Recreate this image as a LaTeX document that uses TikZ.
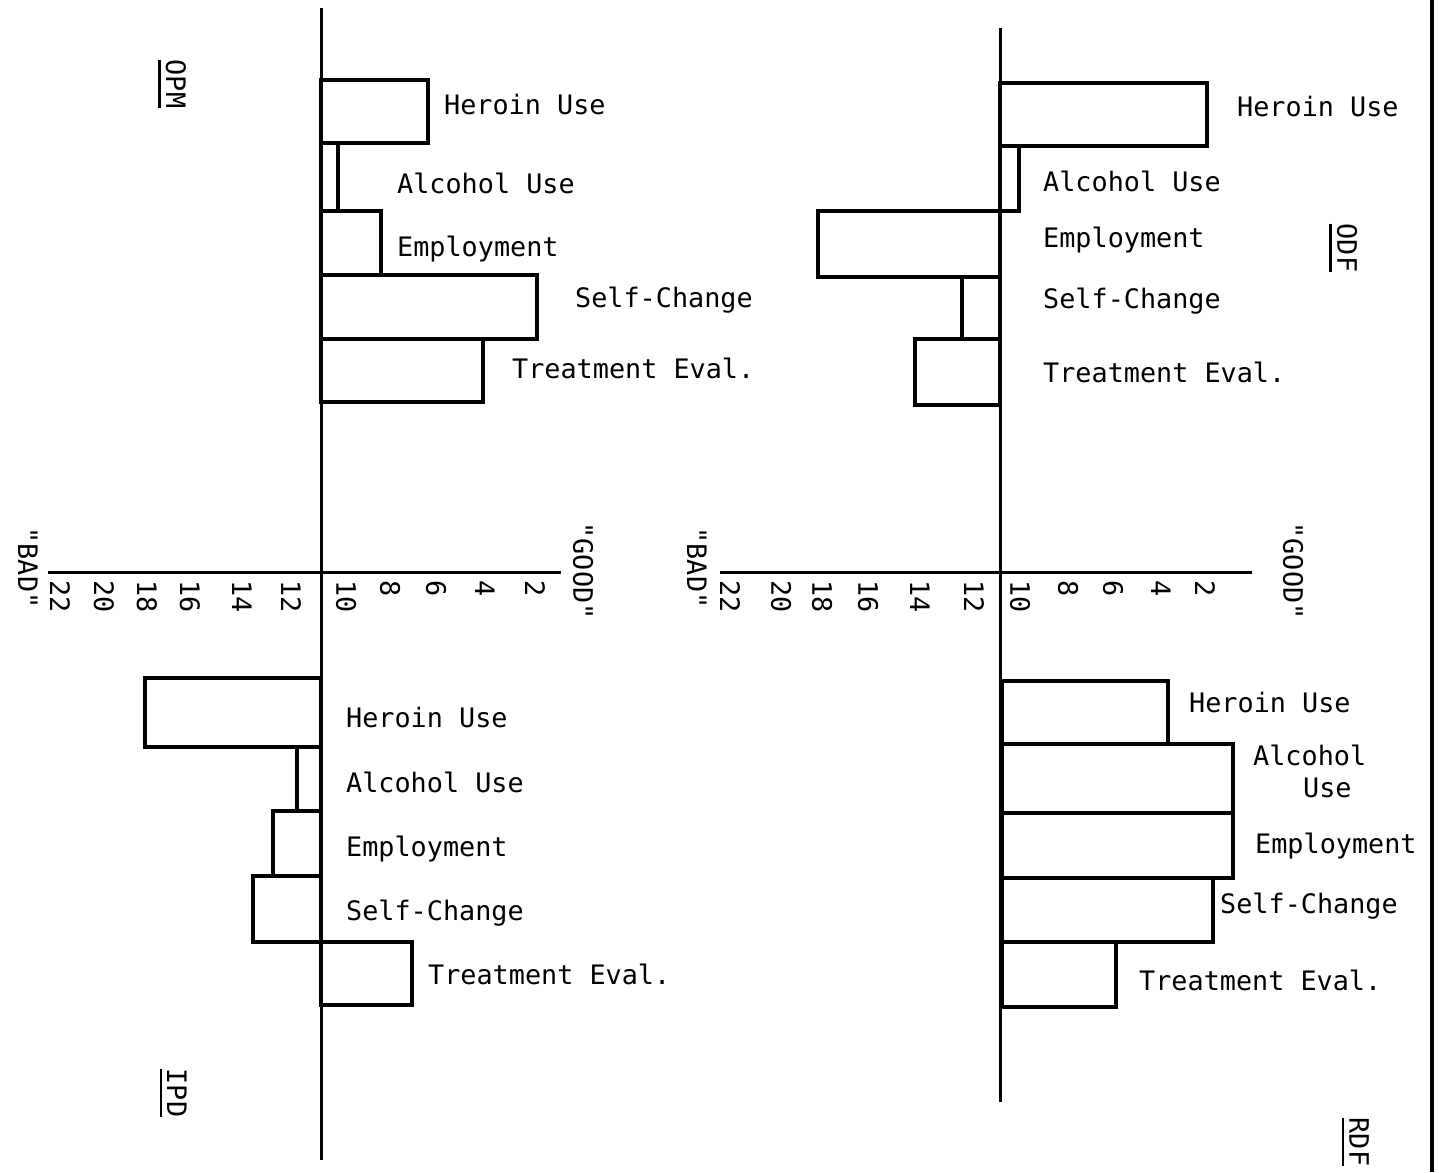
\documentclass[tikz,border=0pt]{standalone}
\usepackage{fontspec}
\newfontfamily\typew{DejaVu Sans Mono}
\newcommand{\lblf}{\typew\fontsize{26.8}{30}\selectfont}
\begin{document}
\begin{tikzpicture}[x=1pt,y=-1pt,
  bar/.style={draw, line width=3.4pt},
  axisline/.style={line width=3pt},
  lbl/.style={anchor=base west, yshift=-10pt, inner sep=0pt, font=\lblf},
  ticklbl/.style={rotate=-90, anchor=west, inner sep=0pt, font=\lblf},
  endlbl/.style={rotate=-90, anchor=center, inner sep=0pt, font=\lblf},
  panel/.style={rotate=-90, anchor=center, inner sep=0pt, font=\lblf}]
\useasboundingbox (0,0) rectangle (1439,1172);

% ---------- axes ----------
\coordinate (LAt) at (321,8);    \coordinate (LAb) at (321,1160);
\coordinate (RAt) at (1000,28);  \coordinate (RAb) at (1000,1102);
\coordinate (LHl) at (48,572);   \coordinate (LHr) at (561,572);
\coordinate (RHl) at (720,572);  \coordinate (RHr) at (1252,572);
\draw[axisline] (LAt) -- (LAb);
\draw[axisline] (RAt) -- (RAb);
\draw[axisline] (LHl) -- (LHr);
\draw[axisline] (RHl) -- (RHr);
% right border
\coordinate (Bt) at (1432,0); \coordinate (Bb) at (1432,1172);
\draw[line width=3.5pt] (Bt) -- (Bb);

% ---------- tick labels ----------
\foreach \v/\x [count=\i] in {22/60,20/104,18/147,16/190,14/242,12/291,10/346,8/390,6/436,4/485,2/535}
  \node[ticklbl] (lt\i) at (\x,580) {\v};
\foreach \v/\x [count=\i] in {22/730,20/781,18/822,16/868,14/920,12/974,10/1020,8/1068,6/1113,4/1161,2/1205}
  \node[ticklbl] (rt\i) at (\x,580) {\v};
\node[endlbl] (lgood) at (583,571) {"GOOD"};
\node[endlbl] (lbad)  at (28,568)  {"BAD"};
\node[endlbl] (rgood) at (1293,571) {"GOOD"};
\node[endlbl] (rbad)  at (697,568) {"BAD"};

% ---------- panel names ----------
\node[panel] (opm) at (176,84) {OPM};
\node[panel] (odf) at (1347,248) {ODF};
\node[panel] (ipd) at (177,1093) {IPD};
\node[panel] (rdf) at (1359,1142) {RDF};
\draw[line width=2.5pt] (opm.south west) ++(-6,0) coordinate (opmA) -- (opmA |- opm.south east);
\draw[line width=2.5pt] (odf.south west) ++(-6,0) coordinate (odfA) -- (odfA |- odf.south east);
\draw[line width=2.5pt] (ipd.south west) ++(-6,0) coordinate (ipdA) -- (ipdA |- ipd.south east);
\draw[line width=2.5pt] (rdf.south west) ++(-6,0) coordinate (rdfA) -- (rdfA |- rdf.south east);

% ---------- OPM (top left) ----------
\draw[bar] (321,80)  rectangle (428,143);
\draw[bar] (321,143) rectangle (338,211);
\draw[bar] (321,211) rectangle (381,275);
\draw[bar] (321,275) rectangle (537,339);
\draw[bar] (321,339) rectangle (483,402);
\node[lbl] (opm1) at (444,104) {Heroin Use};
\node[lbl] (opm2) at (397,183) {Alcohol Use};
\node[lbl] (opm3) at (397,246) {Employment};
\node[lbl] (opm4) at (575,297) {Self-Change};
\node[lbl] (opm5) at (512,368) {Treatment Eval.};

% ---------- ODF (top right) ----------
\draw[bar] (1000,83)  rectangle (1207,146);
\draw[bar] (1000,146) rectangle (1019,211);
\draw[bar] (1000,211) rectangle (818,277);
\draw[bar] (1000,277) rectangle (962,339);
\draw[bar] (1000,339) rectangle (915,405);
\node[lbl] (odf1) at (1237,106) {Heroin Use};
\node[lbl] (odf2) at (1043,181) {Alcohol Use};
\node[lbl] (odf3) at (1043,237) {Employment};
\node[lbl] (odf4) at (1043,298) {Self-Change};
\node[lbl] (odf5) at (1043,372) {Treatment Eval.};

% ---------- IPD (bottom left) ----------
\draw[bar] (321,678) rectangle (145,747);
\draw[bar] (321,747) rectangle (297,811);
\draw[bar] (321,811) rectangle (273,876);
\draw[bar] (321,876) rectangle (253,942);
\draw[bar] (321,942) rectangle (412,1005);
\node[lbl] (ipd1) at (346,717) {Heroin Use};
\node[lbl] (ipd2) at (346,782) {Alcohol Use};
\node[lbl] (ipd3) at (346,846) {Employment};
\node[lbl] (ipd4) at (346,910) {Self-Change};
\node[lbl] (ipd5) at (428,974) {Treatment Eval.};

% ---------- RDF (bottom right) ----------
\draw[bar] (1002,681) rectangle (1168,744);
\draw[bar] (1002,744) rectangle (1233,813);
\draw[bar] (1002,813) rectangle (1233,878);
\draw[bar] (1002,878) rectangle (1213,942);
\draw[bar] (1002,942) rectangle (1116,1007);
\node[lbl] (rdf1) at (1189,702) {Heroin Use};
\node[lbl] (rdf2a) at (1253,755) {Alcohol};
\node[lbl] (rdf2b) at (1303,787) {Use};
\node[lbl] (rdf3) at (1255,843) {Employment};
\node[lbl] (rdf4) at (1220,903) {Self-Change};
\node[lbl] (rdf5) at (1139,980) {Treatment Eval.};
\end{tikzpicture}
\end{document}
